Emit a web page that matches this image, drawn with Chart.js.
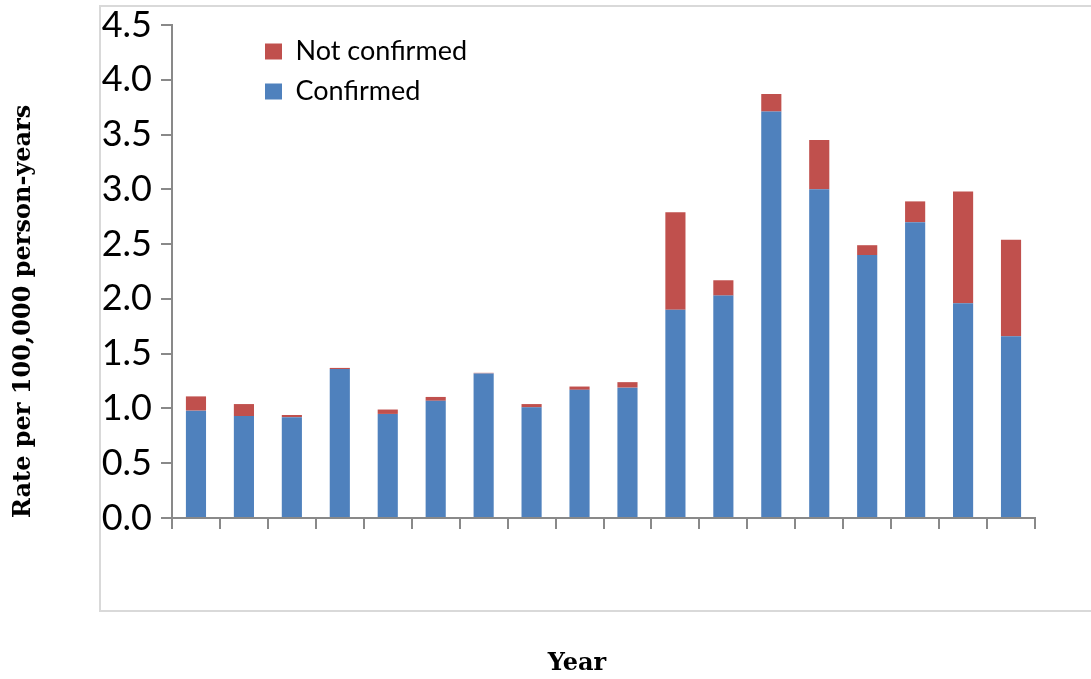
<!DOCTYPE html>
<html>
<head>
<meta charset="utf-8">
<script src="https://cdn.jsdelivr.net/npm/chart.js@4.4.1/dist/chart.umd.min.js"></script>
<style>
  html, body { margin: 0; padding: 0; background: #ffffff; }
  #wrap { position: relative; width: 1091px; height: 679px; }
</style>
</head>
<body>
<div id="wrap"><canvas id="c"></canvas></div>
<script>
// ---- data ----
const categories = ['1','2','3','4','5','6','7','8','9','10','11','12','13','14','15','16','17','18'];
const confirmed    = [0.98, 0.93, 0.92, 1.36, 0.95, 1.07, 1.32, 1.01, 1.17, 1.19, 1.90, 2.03, 3.71, 3.00, 2.40, 2.70, 1.96, 1.66];
const notConfirmed = [0.13, 0.11, 0.02, 0.01, 0.04, 0.035, 0.005, 0.03, 0.03, 0.05, 0.89, 0.14, 0.16, 0.45, 0.09, 0.19, 1.02, 0.88];
const seriesNames = ['Confirmed', 'Not confirmed'];
const yTicks = [0, 0.5, 1.0, 1.5, 2.0, 2.5, 3.0, 3.5, 4.0, 4.5];
const yTitle = 'Rate per 100,000 person-years';
const xTitle = 'Year';

const BLUE = '#4F81BD';
const RED = '#C0504D';
const AXIS = '#898989';

const framePlugin = {
  id: 'frame',
  afterLayout(chart) {
    // place the legend inside the plot, top-left
    if (chart.legend) { chart.legend.left = 252; chart.legend.top = 25; }
  },
  beforeDraw(chart) {
    const ctx = chart.ctx;
    ctx.save();
    ctx.strokeStyle = '#d9d9d9';
    ctx.lineWidth = 2;
    ctx.strokeRect(100, 6, 1010, 605);
    ctx.restore();
  },
  afterDraw(chart) {
    const ctx = chart.ctx;
    ctx.save();
    ctx.font = 'bold 24px "DejaVu Serif"';
    ctx.fillStyle = '#000';
    ctx.textAlign = 'center';
    ctx.textBaseline = 'middle';
    ctx.fillText(xTitle, 577, 664);
    ctx.restore();
  }
};

new Chart(document.getElementById('c'), {
  type: 'bar',
  data: {
    labels: categories,
    datasets: [
      { label: seriesNames[0], data: confirmed, backgroundColor: BLUE, borderWidth: 0,
        barPercentage: 0.42, categoryPercentage: 1.0 },
      { label: seriesNames[1], data: notConfirmed, backgroundColor: RED, borderWidth: 0,
        barPercentage: 0.42, categoryPercentage: 1.0 }
    ]
  },
  options: {
    responsive: true,
    maintainAspectRatio: false,
    animation: false,
    layout: { padding: { top: 25, right: 56, bottom: 0, left: 0 } },
    plugins: {
      legend: {
        position: 'chartArea',
        align: 'start',
        reverse: true,
        labels: {
          font: { family: 'Lato', size: 27 },
          color: '#000',
          boxWidth: 17,
          boxHeight: 16,
          padding: 13
        }
      },
      tooltip: { enabled: false }
    },
    scales: {
      x: {
        stacked: true,
        offset: true,
        ticks: { display: false },
        grid: { display: true, offset: true, drawOnChartArea: false, drawTicks: true,
                tickLength: 11, color: AXIS, lineWidth: 2 },
        border: { display: true, color: AXIS, width: 2 },
        afterFit(scale) { scale.height = 161; }
      },
      y: {
        stacked: true,
        min: 0,
        max: 4.5,
        afterBuildTicks(scale) { scale.ticks = yTicks.map(v => ({ value: v })); },
        ticks: {
          font: { family: 'Lato', size: 36, lineHeight: 0.8 },
          color: '#000',
          padding: 9,
          callback: (v) => Number(v).toFixed(1)
        },
        grid: { display: true, drawOnChartArea: false, drawTicks: true,
                tickLength: 11, color: AXIS, lineWidth: 2 },
        border: { display: true, color: AXIS, width: 2 },
        title: {
          display: true,
          text: yTitle,
          align: 'start',
          color: '#000',
          font: { family: 'DejaVu Serif', size: 24, weight: 'bold' },
          padding: { top: 9, bottom: 0 }
        },
        afterFit(scale) { scale.width = 172; }
      }
    }
  },
  plugins: [framePlugin]
});
</script>
</body>
</html>
